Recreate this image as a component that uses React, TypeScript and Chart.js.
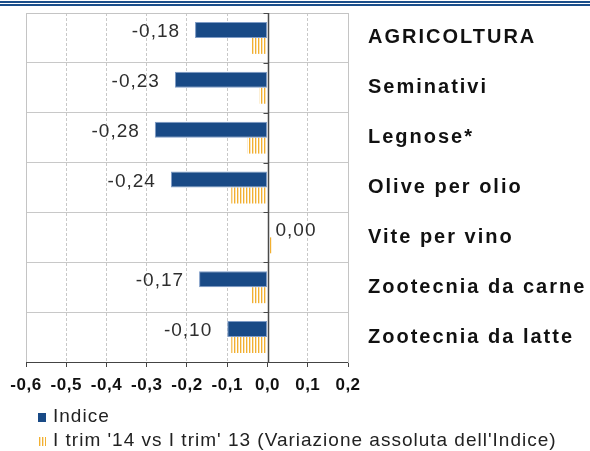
import React, { useEffect, useRef } from 'react';
import { Chart, registerables } from 'chart.js';

Chart.register(...registerables);

// ---- data ----
const categories = [
  'AGRICOLTURA',
  'Seminativi',
  'Legnose*',
  'Olive per olio',
  'Vite per vino',
  'Zootecnia da carne',
  'Zootecnia da latte',
];
const indiceValues = [-0.18, -0.23, -0.28, -0.24, 0.0, -0.17, -0.1];
const variazioneValues = [-0.04, -0.02, -0.05, -0.09, 0.01, -0.04, -0.09];
const seriesNames = ['Indice', "I trim '14 vs I trim' 13 (Variazione assoluta dell'Indice)"];
const xMin = -0.6;
const xMax = 0.2;
const xStep = 0.1;

const BLUE = '#194a86';
const YELLOW = '#f2b031';
const FONT = '"Liberation Sans", Arial, sans-serif';

function makeStripePattern(): CanvasPattern | string {
  const c = document.createElement('canvas');
  c.width = 3;
  c.height = 4;
  const g = c.getContext('2d');
  if (!g) return YELLOW;
  g.fillStyle = '#ffffff';
  g.fillRect(0, 0, 3, 4);
  g.fillStyle = YELLOW;
  g.fillRect(0, 0, 1, 4);
  g.fillStyle = 'rgba(242,176,49,0.35)';
  g.fillRect(1, 0, 1, 4);
  return g.createPattern(c, 'repeat') || YELLOW;
}

const fmtComma = (v: number, d: number) => {
  const n = Math.abs(v) < 1e-9 ? 0 : v;
  return n.toFixed(d).replace('.', ',');
};

function withSpacing(scale: any, spacing: string) {
  if (scale.__spaced) return;
  const orig = scale.drawLabels.bind(scale);
  scale.drawLabels = (area: any) => {
    const ctx = scale.ctx as any;
    const prev = ctx.letterSpacing;
    ctx.letterSpacing = spacing;
    orig(area);
    ctx.letterSpacing = prev || '0px';
  };
  scale.__spaced = true;
}

const framePlugin = {
  id: 'frame',
  beforeDatasetsDraw(chart: any) {
    const { ctx, chartArea } = chart;
    ctx.save();
    ctx.strokeStyle = '#c4c4c4';
    ctx.lineWidth = 1;
    ctx.beginPath();
    const l = Math.round(chartArea.left) + 0.5;
    const t = Math.round(chartArea.top) + 0.5;
    ctx.moveTo(l, Math.round(chartArea.bottom));
    ctx.lineTo(l, t);
    ctx.lineTo(Math.round(chartArea.right), t);
    ctx.stroke();
    ctx.restore();
  },
};

const overlayPlugin = {
  id: 'overlay',
  afterDatasetsDraw(chart: any) {
    const { ctx, chartArea } = chart;
    const xs = chart.scales.x;
    const ys = chart.scales.y;
    const x0 = Math.round(xs.getPixelForValue(0)) + 0.5;
    ctx.save();
    // zero line
    ctx.strokeStyle = '#4a4a4a';
    ctx.lineWidth = 1.5;
    ctx.beginPath();
    ctx.moveTo(x0, chartArea.top);
    ctx.lineTo(x0, chartArea.bottom);
    ctx.stroke();
    // tick marks at category boundaries
    ctx.lineWidth = 1;
    const n = categories.length;
    const bounds: number[] = [];
    for (let i = 0; i <= n; i++) {
      let y;
      if (i === 0) y = chartArea.top;
      else if (i === n) y = chartArea.bottom;
      else y = (ys.getPixelForValue(i - 1) + ys.getPixelForValue(i)) / 2;
      bounds.push(Math.round(y) + 0.5);
    }
    ctx.beginPath();
    bounds.forEach((y) => {
      ctx.moveTo(x0 - 5, y);
      ctx.lineTo(x0, y);
    });
    ctx.stroke();

    // value labels for Indice
    const meta = chart.getDatasetMeta(0);
    ctx.font = `19px ${FONT}`;
    (ctx as any).letterSpacing = '1px';
    ctx.fillStyle = '#2e2e2e';
    ctx.textBaseline = 'middle';
    meta.data.forEach((bar: any, i: number) => {
      const v = indiceValues[i];
      const txt = fmtComma(v, 2);
      const { x, y } = bar.getProps(['x', 'y'], true);
      if (v < 0) {
        ctx.textAlign = 'right';
        ctx.fillText(txt, x - 15, y + 2);
      } else {
        ctx.textAlign = 'left';
        ctx.fillText(txt, x + 8, y + 1);
      }
    });
    (ctx as any).letterSpacing = '0px';
    ctx.restore();
  },
};

const legendPlugin = {
  id: 'customLegend',
  afterDraw(chart: any) {
    const { ctx, chartArea } = chart;
    const ds = chart.data.datasets;
    ctx.save();
    ctx.font = `19px ${FONT}`;
    (ctx as any).letterSpacing = '1px';
    ctx.textBaseline = 'middle';
    ctx.textAlign = 'left';
    const boxX = chartArea.left + 12;
    const rowY = [chartArea.bottom + 55, chartArea.bottom + 79];
    ds.forEach((d: any, i: number) => {
      const cy = rowY[i];
      ctx.fillStyle = d.backgroundColor;
      ctx.fillRect(boxX, cy - 4, 8, 9);
      ctx.fillStyle = '#222';
      ctx.fillText(d.label, boxX + 15, cy);
    });
    (ctx as any).letterSpacing = '0px';
    ctx.restore();
  },
};

export default function App() {
  const ref = useRef<HTMLCanvasElement | null>(null);

  useEffect(() => {
    if (!ref.current) return;
    const pattern = makeStripePattern();
    const chart = new Chart(ref.current, {
      type: 'bar',
      data: {
        labels: categories,
        datasets: [
          {
            label: seriesNames[0],
            data: indiceValues,
            backgroundColor: BLUE,
            borderColor: '#7f9cc6',
            borderWidth: 1,
            borderSkipped: false,
            categoryPercentage: 0.64,
            barPercentage: 1,
          },
          {
            label: seriesNames[1],
            data: variazioneValues,
            backgroundColor: pattern as any,
            borderWidth: 0,
            categoryPercentage: 0.64,
            barPercentage: 1,
          },
        ],
      },
      options: {
        indexAxis: 'y',
        animation: false,
        responsive: false,
        devicePixelRatio: 1,
        layout: { padding: { left: 26, top: 13, right: 0, bottom: 52 } },
        plugins: {
          legend: { display: false },
          tooltip: { enabled: false },
          title: { display: false },
        },
        scales: {
          x: {
            type: 'linear',
            min: xMin,
            max: xMax,
            afterFit: (s: any) => {
              s.height = 37;
              s.paddingLeft = 0;
              s.paddingRight = 0;
              withSpacing(s, '0.5px');
            },
            ticks: {
              stepSize: xStep,
              padding: 8,
              color: '#111',
              font: { family: FONT, size: 17, weight: 'bold' },
              callback: (v: any) => fmtComma(Number(v), 1),
            },
            grid: {
              color: (c: any) => (c.tick && Math.abs(c.tick.value) < 1e-9 ? 'rgba(0,0,0,0)' : '#c8c8c8'),
              lineWidth: 1,
              drawTicks: true,
              tickLength: 5,
              tickColor: '#444',
            },
            border: { display: true, color: '#444', width: 1, dash: [3, 2] },
          },
          y: {
            type: 'category',
            position: 'right',
            offset: true,
            afterFit: (s: any) => {
              s.width = 242;
              s.paddingTop = 0;
              s.paddingBottom = 0;
              withSpacing(s, '2px');
            },
            ticks: {
              padding: 20,
              color: '#111',
              font: { family: FONT, size: 20, weight: 'bold' },
            },
            grid: {
              offset: true,
              color: '#c8c8c8',
              lineWidth: 1,
              drawTicks: false,
            },
            border: { display: true, color: '#c4c4c4', width: 1 },
          },
        },
      },
      plugins: [framePlugin, overlayPlugin, legendPlugin],
    } as any);
    return () => chart.destroy();
  }, []);

  return (
    <div
      style={{
        position: 'fixed',
        left: 0,
        top: 0,
        width: 590,
        height: 451,
        background: '#ffffff',
        overflow: 'hidden',
      }}
    >
      <canvas ref={ref} width={590} height={451} style={{ position: 'absolute', left: 0, top: 0 }} />
      <div style={{ position: 'absolute', left: 0, top: 1, width: 590, height: 2, background: '#1b4e8a' }} />
      <div style={{ position: 'absolute', left: 0, top: 4, width: 590, height: 2, background: '#1b4e8a' }} />
    </div>
  );
}
